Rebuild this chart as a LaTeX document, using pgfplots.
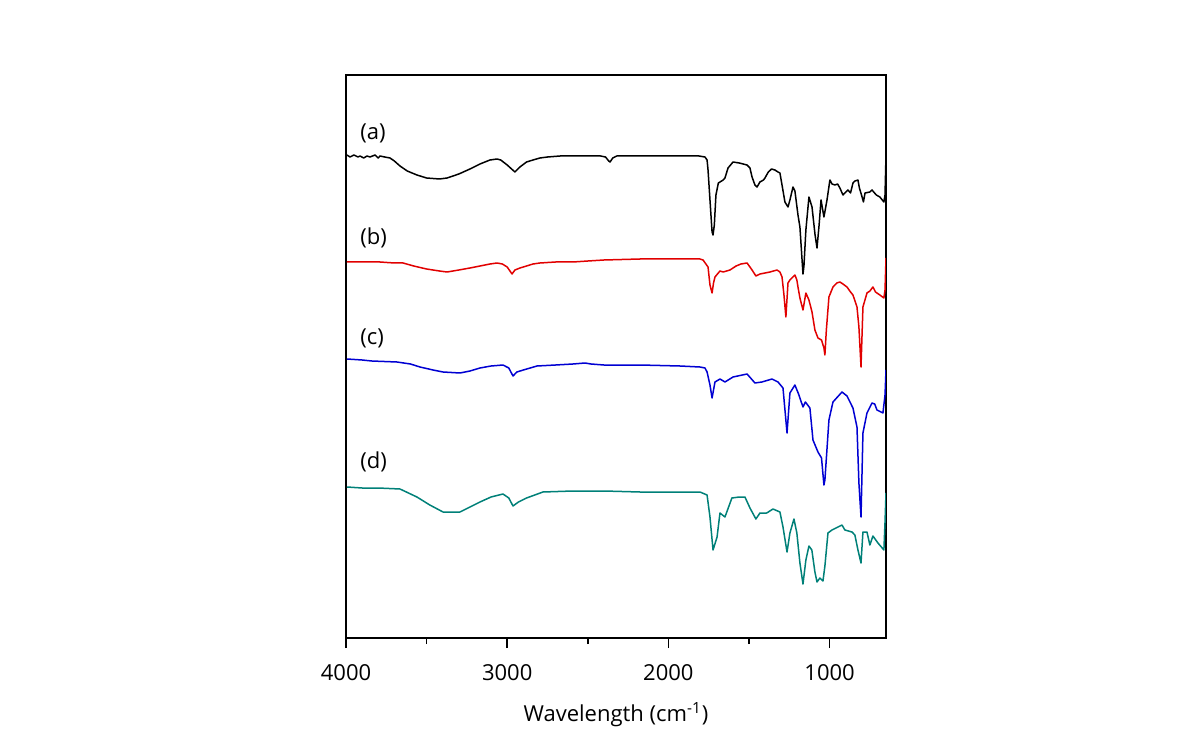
\documentclass[border=0pt]{standalone}
\usepackage{fontspec}
\setmainfont{Open Sans}
\usepackage{pgfplots}
\pgfplotsset{compat=1.18}
\definecolor{cA}{RGB}{0,0,0}
\definecolor{cB}{RGB}{225,0,0}
\definecolor{cC}{RGB}{0,0,210}
\definecolor{cD}{RGB}{0,128,120}
\begin{document}
\begin{tikzpicture}
\path[use as bounding box] (0,0) rectangle (595pt,374.5pt);
\begin{axis}[
  at={(173pt,55.5pt)}, anchor=south west,
  scale only axis, width=270pt, height=281.5pt,
  x dir=reverse, xmin=650, xmax=4000,
  y dir=reverse, ymin=75, ymax=638,
  xtick={1000,2000,3000,4000}, minor xtick={1500,2500,3500},
  xtick pos=bottom, ytick=\empty,
  tick align=outside,
  major tick length=5pt, minor tick length=3pt,
  axis line style={line width=1pt},
  every tick/.style={black, line width=0.8pt},
  tick label style={font=\fontsize{11}{13}\selectfont},
  xticklabel style={yshift=-4.5pt},
  /pgf/number format/assume math mode=true,
  /pgf/number format/1000 sep={},
  xlabel={Wavelength (cm\textsuperscript{-1})},
  xlabel style={font=\fontsize{11}{13}\selectfont, at={(axis description cs:0.5,0)}, anchor=center, yshift=-38.5pt},
  every axis plot/.append style={line width=0.75pt, line join=round},
]
\addplot[cA] coordinates {
(3994,155)(3975,157)(3951,155)(3925,157)(3913,156)(3890,158)(3870,156)(3851,157)(3820,155)(3800,158)(3789,156)(3760,157)(3727,158)(3700,161)(3665,166)(3620,171)(3560,175)(3500,178)(3420,179)(3373,178)(3300,174)(3231,169)(3169,164)(3107,160)(3063,159)(3040,160)(3000,165)(2952,172)(2921,167)(2880,162)(2840,160)(2797,158)(2750,157)(2672,156)(2500,156)(2420,156)(2390,157)(2370,161)(2362,162)(2345,158)(2320,156)(2176,156)(1928,156)(1810,156)(1773,157)(1760,160)(1754,170)(1742,200)(1729,232)(1723,235)(1715,225)(1705,195)(1690,183)(1680,182)(1660,180)(1649,178)(1630,168)(1599,162)(1560,163)(1512,165)(1494,168)(1481,177)(1463,185)(1450,187)(1432,182)(1410,180)(1401,178)(1380,172)(1360,169)(1339,170)(1320,172)(1308,173)(1295,185)(1277,202)(1258,207)(1246,200)(1227,187)(1215,191)(1196,215)(1184,227)(1165,274)(1159,266)(1147,230)(1128,197)(1109,207)(1090,235)(1078,248)(1065,225)(1053,200)(1035,217)(1016,200)(998,180)(985,184)(967,185)(950,184)(936,188)(917,195)(905,193)(886,190)(870,193)(855,183)(843,181)(824,180)(815,188)(800,196)(790,202)(780,193)(750,192)(737,190)(710,195)(688,197)(663,202)(656,195)(650,155)
};
\addplot[cB] coordinates {
(3994,262)(3913,262)(3851,262)(3789,262)(3700,263)(3646,263)(3580,266)(3500,269)(3420,271)(3373,272)(3300,270)(3231,268)(3169,266)(3107,264)(3063,263)(3030,264)(3000,267)(2970,274)(2952,270)(2921,268)(2880,266)(2840,264)(2797,263)(2700,262)(2592,262)(2500,261)(2400,260)(2176,259)(1928,259)(1804,259)(1785,260)(1754,267)(1742,285)(1729,293)(1720,283)(1711,277)(1680,271)(1660,272)(1618,270)(1580,266)(1550,264)(1512,263)(1494,267)(1481,270)(1457,276)(1432,274)(1401,273)(1370,272)(1326,270)(1308,272)(1295,277)(1283,295)(1271,317)(1258,283)(1246,280)(1215,275)(1203,280)(1196,287)(1184,298)(1165,310)(1147,293)(1128,300)(1109,312)(1091,330)(1072,338)(1050,340)(1035,348)(1029,355)(1020,330)(1004,297)(979,287)(955,283)(936,282)(917,284)(892,287)(870,292)(855,295)(830,307)(818,327)(805,367)(793,307)(768,293)(750,291)(731,287)(715,292)(688,295)(663,298)(656,290)(650,258)
};
\addplot[cC] coordinates {
(3994,359)(3900,360)(3840,361)(3684,362)(3600,364)(3541,367)(3460,370)(3398,372)(3293,373)(3231,371)(3169,368)(3100,366)(3026,365)(2990,368)(2964,376)(2940,372)(2900,370)(2815,366)(2700,365)(2592,364)(2517,363)(2480,364)(2400,365)(2176,365)(1928,366)(1804,367)(1773,368)(1760,372)(1742,385)(1729,398)(1711,382)(1680,379)(1649,382)(1599,377)(1512,374)(1490,378)(1463,383)(1420,382)(1357,379)(1320,382)(1289,388)(1264,433)(1246,393)(1215,385)(1190,395)(1184,398)(1165,407)(1150,402)(1122,408)(1103,440)(1072,452)(1050,458)(1035,485)(1029,480)(1004,420)(979,402)(923,392)(892,396)(855,408)(830,427)(818,483)(805,517)(793,433)(768,413)(737,403)(720,404)(706,410)(669,413)(656,395)(650,370)
};
\addplot[cD] coordinates {
(3994,487)(3900,488)(3800,488)(3665,489)(3560,497)(3480,505)(3398,512)(3293,512)(3169,502)(3100,497)(3026,494)(2990,498)(2964,506)(2930,502)(2880,498)(2778,492)(2592,491)(2400,491)(2176,492)(1928,492)(1804,492)(1760,495)(1742,517)(1723,550)(1698,537)(1680,513)(1649,517)(1606,498)(1560,497)(1525,497)(1494,508)(1457,519)(1432,513)(1390,513)(1351,509)(1308,512)(1289,527)(1264,552)(1246,533)(1221,519)(1203,533)(1184,563)(1165,584)(1147,560)(1128,546)(1110,550)(1091,572)(1078,582)(1060,578)(1041,581)(1029,566)(1010,533)(985,530)(960,528)(923,525)(905,530)(861,532)(843,535)(824,550)(805,563)(793,532)(768,532)(750,545)(731,536)(700,543)(663,550)(656,522)(650,493)
};
\node[anchor=west, inner sep=0pt, font=\fontsize{11}{13}\selectfont] at (axis cs:3913,133) {(a)};
\node[anchor=west, inner sep=0pt, font=\fontsize{11}{13}\selectfont] at (axis cs:3913,238) {(b)};
\node[anchor=west, inner sep=0pt, font=\fontsize{11}{13}\selectfont] at (axis cs:3913,338) {(c)};
\node[anchor=west, inner sep=0pt, font=\fontsize{11}{13}\selectfont] at (axis cs:3913,462) {(d)};
\end{axis}
\end{tikzpicture}
\end{document}
